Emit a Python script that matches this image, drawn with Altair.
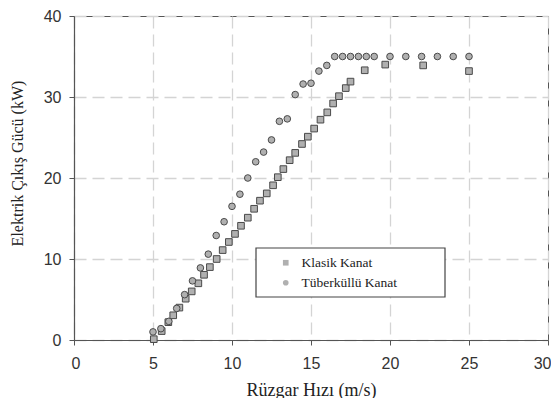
import altair as alt
import pandas as pd

# Klasik Kanat (squares)
klasik_x = [5.05, 5.55, 5.97, 6.28, 6.67, 7.07, 7.45, 7.87, 8.23, 8.6, 9.03, 9.41, 9.8,
            10.19, 10.57, 11.0, 11.4, 11.77, 12.2, 12.6, 12.9, 13.25, 13.65, 14.0, 14.43,
            14.8, 15.2, 15.6, 16.03, 16.4, 16.77, 17.2, 17.5, 18.4, 19.7, 22.1, 25.0]
klasik_y = [0.1, 1.1, 2.2, 3.05, 4.0, 5.1, 6.0, 7.0, 8.05, 9.0, 10.0, 11.1, 12.1,
            13.1, 14.1, 15.1, 16.2, 17.2, 18.1, 19.1, 20.1, 21.1, 22.2, 23.1, 24.2,
            25.1, 26.1, 27.2, 28.1, 29.2, 30.1, 31.1, 31.9, 33.3, 34.0, 33.9, 33.2]

# Tüberküllü Kanat (circles)
tuber_x = [5.0, 5.5, 6.0, 6.5, 7.0, 7.5, 8.0, 8.5, 9.0, 9.5, 10.0, 10.5, 11.0, 11.5,
           12.0, 12.5, 13.0, 13.5, 14.0, 14.5, 15.0, 15.5, 16.0, 16.5, 17.0, 17.5, 18.0,
           18.5, 19.0, 20.0, 21.0, 22.0, 23.0, 24.0, 25.0]
tuber_y = [1.0, 1.4, 2.3, 3.9, 5.6, 7.3, 8.9, 10.6, 12.9, 14.6, 16.5, 18.0, 20.0, 22.0,
           23.2, 24.7, 27.0, 27.3, 30.3, 31.6, 31.7, 33.2, 33.9, 35.0, 35.0, 35.0, 35.0,
           35.0, 35.0, 35.0, 35.0, 35.0, 35.0, 35.0, 35.0]

series_names = ["Klasik Kanat", "Tüberküllü Kanat"]
x_ticks = [0, 5, 10, 15, 20, 25, 30]
y_ticks = [0, 10, 20, 30, 40]

df = pd.concat([
    pd.DataFrame({"x": klasik_x, "y": klasik_y, "seri": series_names[0]}),
    pd.DataFrame({"x": tuber_x, "y": tuber_y, "seri": series_names[1]}),
])

W, H = 474, 324

box = alt.Chart(pd.DataFrame({"a": [0]})).mark_rect(
    fill="white", stroke="#444", strokeWidth=1.2
).encode(
    x=alt.value(182), x2=alt.value(371), y=alt.value(232), y2=alt.value(281)
)

points = alt.Chart(df).mark_point(
    filled=False, fill="#b0b0b0", stroke="#4a4a4a", opacity=1, size=44, strokeWidth=1
).encode(
    x=alt.X("x:Q", scale=alt.Scale(domain=[0, 30], nice=False),
            axis=alt.Axis(values=x_ticks, title="Rüzgar Hızı (m/s)",
                          titleY=50, titleBaseline="middle", titleFontSize=18,
                          labelFlush=True, labelFlushOffset=3)),
    y=alt.Y("y:Q", scale=alt.Scale(domain=[0, 40], nice=False),
            axis=alt.Axis(values=y_ticks, title="Elektrik Çıkış Gücü (kW)",
                          titleX=-57, titleY=147, titleBaseline="middle", titleFontSize=16)),
    shape=alt.Shape("seri:N",
                    scale=alt.Scale(domain=series_names, range=["square", "circle"]),
                    legend=alt.Legend(title=None, orient="none", legendX=205, legendY=240,
                                      labelFont="Liberation Serif", labelFontSize=13.5,
                                      labelColor="#222", symbolSize=32,
                                      symbolFillColor="#b0b0b0", symbolStrokeColor="#4a4a4a",
                                      symbolStrokeWidth=1, labelOffset=9, rowPadding=5,
                                      padding=0, zindex=2)),
)

chart = alt.layer(box, points).properties(
    width=W, height=H,
    autosize=alt.AutoSizeParams(type="none"),
    padding={"left": 66, "top": 8, "right": 3, "bottom": 58},
).configure_view(
    stroke="#555", strokeWidth=1
).configure_axis(
    domainColor="#555", domainWidth=1.2,
    tickColor="#555", tickSize=5, tickWidth=1,
    labelFont="Liberation Sans", labelFontSize=16, labelColor="#333",
    labelPadding=8,
    titleFont="Liberation Serif", titleFontWeight="normal",
    titleColor="#222",
    grid=True, gridColor="#d4d4d4", gridDash=[12, 6], gridWidth=1.3,
).configure_axisX(labelPadding=10)

chart.save("out.html", embed_options={"renderer": "svg", "actions": False})
